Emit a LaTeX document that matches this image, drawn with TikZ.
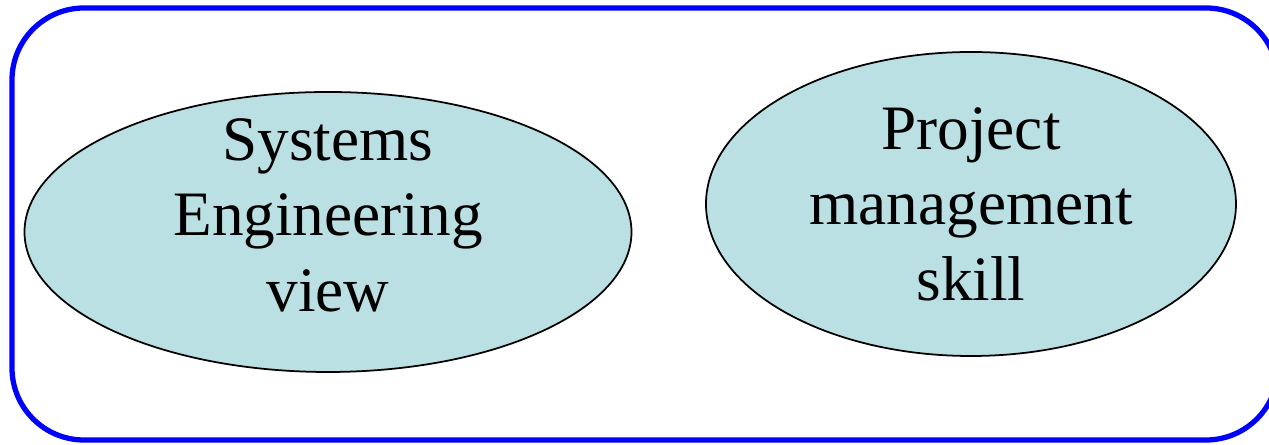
\documentclass[tikz,border=0pt]{standalone}
\usepackage{fontspec}
\setmainfont{Liberation Serif}
\usetikzlibrary{shapes.geometric}
\definecolor{skillfill}{RGB}{187,224,227}

\begin{document}
\begin{tikzpicture} [x=1cm, y=1cm, view/.style={ellipse, draw, fill=skillfill, line width=0.5pt, align=center, font=\fontsize{18}{21.5}\selectfont, inner xsep=0pt, inner ysep=-0.6cm}]
  \useasboundingbox (0,0) rectangle (12.69,4.45);
  %% Frame
  \draw [blue, line width=1.5pt, rounded corners=0.72cm] (0.12,0.05) rectangle (12.78,4.37);
  %% Views
  \node [view, minimum width=6.07cm, minimum height=2.80cm, text depth=0.34cm] (se) at (3.28,2.13) {Systems\\Engineering\\view};
  \node [view, minimum width=5.30cm, minimum height=3.04cm] (pm) at (9.71,2.41) {Project\\management\\skill};
\end{tikzpicture}
\end{document}
